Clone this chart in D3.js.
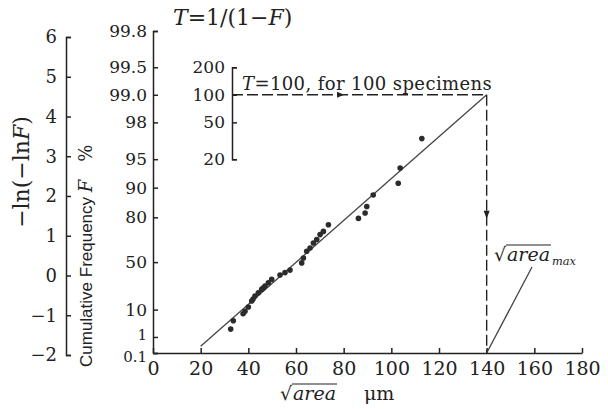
<!DOCTYPE html>
<html>
<head>
<meta charset="utf-8">
<script src="https://cdn.jsdelivr.net/npm/d3@7"></script>
<style>
  body { margin: 0; background: #fff; }
  svg { display: block; }
  text { font-family: "DejaVu Serif", "Liberation Serif", serif; fill: #222; }
  .axis path, .axis line { stroke: #222; stroke-width: 1.5px; }
  .axis text { font-family: "DejaVu Serif", serif; fill: #222; }
</style>
</head>
<body>
<svg class="chart" width="608" height="409"></svg>
<script>

// sqrt(area) of each specimen, micrometres
const sqrtArea = [32.6, 33.7, 37.8, 38.6, 40.0, 41.4, 42.0, 42.8, 44.2, 45.6, 46.2, 47.0, 48.4, 49.8,
                  53.3, 55.4, 57.5, 62.4, 63.1, 64.5, 65.9, 67.3, 68.7, 70.1, 71.5, 73.6,
                  86.2, 89.0, 89.7, 92.4, 102.9, 103.7, 112.8];
// cumulative frequency F, percent
const cumFreq = [2.3, 4.7, 7.7, 9.0, 11.6, 15.7, 17.2, 19.5, 22.2, 25.2, 26.3, 28.1, 31.1, 34.2,
                 38.2, 40.5, 42.8, 49.3, 53.6, 59.1, 61.6, 65.2, 67.6, 70.8, 72.7, 76.4,
                 79.5, 81.9, 84.4, 88.1, 91.0, 93.8, 97.0];

// fitted line end points
const fitX = [20, 140];
const fitF = [0.3, 99.0];

// tick values
const xTicks = [0, 20, 40, 60, 80, 100, 120, 140, 160, 180];
const fTicks = [0.1, 1, 10, 50, 80, 90, 95, 98, 99.0, 99.5, 99.8];
const fTickLabels = ['0.1', '1', '10', '50', '80', '90', '95', '98', '99.0', '99.5', '99.8'];
const gTicks = [-2, -1, 0, 1, 2, 3, 4, 5, 6];
const tTicks = [20, 50, 100, 200];

// return period and predicted maximum
const tRef = 100;
const areaMax = 140;

// reduced variate of the Gumbel plot
const gumbel = p => -Math.log(-Math.log(p / 100));
const fromT = t => 100 * (1 - 1 / t);

const svg = d3.select('svg.chart');

const x = d3.scaleLinear().domain([0, 180]).range([153, 582]);
const yF = d3.scaleLinear().domain([gumbel(0.1), gumbel(99.8)]).range([353, 31]);
const yG = d3.scaleLinear().domain([-2, 6]).range([355, 37]);
const yT = d3.scaleLinear()
  .domain([gumbel(fromT(20)), gumbel(fromT(200))])
  .range([yF(gumbel(fromT(20))), yF(gumbel(fromT(200)))]);

// -ln(-lnF) axis
svg.append('g').attr('class', 'axis')
  .attr('transform', 'translate(66,0)')
  .call(d3.axisLeft(yG).tickValues(gTicks).tickSize(-5).tickSizeOuter(-5).tickPadding(9)
    .tickFormat(d => d < 0 ? '\u2212' + Math.abs(d) : d))
  .call(g => g.selectAll('text').style('font-size', '18px'));

// cumulative frequency axis
svg.append('g').attr('class', 'axis')
  .attr('transform', 'translate(153,0)')
  .call(d3.axisLeft(yF).tickValues(fTicks.map(gumbel)).tickSize(-5).tickSizeOuter(-5).tickPadding(6)
    .tickFormat((d, i) => fTickLabels[i]))
  .call(g => g.selectAll('text').style('font-size', '17px'))
  // bottom two labels sit very close, nudge them apart
  .call(g => g.selectAll('.tick text').filter((d, i) => i < 2)
    .style('font-size', '15px')
    .attr('dy', (d, i) => i === 0 ? '0.55em' : '0.2em'));

// return period axis
svg.append('g').attr('class', 'axis')
  .attr('transform', 'translate(232,0)')
  .call(d3.axisLeft(yT).tickValues(tTicks.map(t => gumbel(fromT(t)))).tickSize(-5).tickSizeOuter(-5).tickPadding(7)
    .tickFormat((d, i) => tTicks[i]))
  .call(g => g.selectAll('text').style('font-size', '17px'));

// x axis
svg.append('g').attr('class', 'axis')
  .attr('transform', 'translate(0,353)')
  .call(d3.axisBottom(x).tickValues(xTicks).tickSize(-5).tickSizeOuter(0).tickPadding(9))
  .call(g => g.selectAll('text').style('font-size', '19px'));

// dashed construction lines
const yRef = yF(gumbel(fromT(tRef)));
const dashGrp = svg.append('g')
  .style('stroke', '#222').style('stroke-width', 1.4).style('stroke-dasharray', '11,4').style('fill', 'none');
dashGrp.append('line')
  .attr('x1', 232).attr('y1', yRef).attr('x2', x(areaMax)).attr('y2', yRef);
dashGrp.append('line')
  .attr('x1', x(areaMax)).attr('y1', yRef).attr('x2', x(areaMax)).attr('y2', 353);

// arrow heads
const arrowH = d3.interpolate(232, x(areaMax))(0.44);
const arrowV = d3.interpolate(yRef, 353)(0.48);
svg.append('path')
  .attr('d', `M${arrowH - 7},${yRef - 3}L${arrowH},${yRef}L${arrowH - 7},${yRef + 3}Z`)
  .style('fill', '#222');
svg.append('path')
  .attr('d', `M${x(areaMax) - 3},${arrowV - 8}L${x(areaMax)},${arrowV}L${x(areaMax) + 3},${arrowV - 8}Z`)
  .style('fill', '#222');

// fitted line
svg.append('line')
  .attr('x1', x(fitX[0])).attr('y1', yF(gumbel(fitF[0])))
  .attr('x2', x(fitX[1])).attr('y2', yF(gumbel(fitF[1])))
  .style('stroke', '#444').style('stroke-width', 1.3);

// specimens
svg.append('g').selectAll('circle')
  .data(sqrtArea)
  .enter()
  .append('circle')
  .attr('cx', d => x(d))
  .attr('cy', (d, i) => yF(gumbel(cumFreq[i])))
  .attr('r', 2.8)
  .style('fill', '#2b2b2b');

// title
const title = svg.append('text').attr('x', 173).attr('y', 25).style('font-size', '22px');
title.append('tspan').text('T').style('font-style', 'italic');
title.append('tspan').text('=1/(1\u2212');
title.append('tspan').text('F').style('font-style', 'italic');
title.append('tspan').text(')');

// T = 100 annotation
const note = svg.append('text').attr('x', 242).attr('y', 90)
  .style('font-size', '18px').style('letter-spacing', '0.4px');
note.append('tspan').text('T').style('font-style', 'italic');
note.append('tspan').text('=100, for 100 specimens');

// left axis label
const gLab = svg.append('text')
  .attr('transform', 'translate(29,172) rotate(-90)')
  .attr('text-anchor', 'middle')
  .style('font-size', '22px');
gLab.append('tspan').text('\u2212ln(\u2212ln');
gLab.append('tspan').text('F').style('font-style', 'italic');
gLab.append('tspan').text(')');

// cumulative frequency label
const fLab = svg.append('text')
  .attr('transform', 'translate(92,367) rotate(-90)')
  .style('font-size', '17px');
fLab.append('tspan').text('Cumulative Frequency ')
  .style('font-family', '"Liberation Sans", Arial, sans-serif');
fLab.append('tspan').text('F').style('font-style', 'italic').style('font-size', '18px');
fLab.append('tspan').attr('dx', 18).text('%').style('font-size', '18px');

// sqrt(area) label helper
function sqrtLabel(px, py, size, sub){
  const grp = svg.append('g');
  const rad = grp.append('text').attr('x', px).attr('y', py).style('font-size', size + 'px').text('\u221A');
  const rBox = rad.node().getBBox();
  const word = grp.append('text')
    .attr('x', rBox.x + rBox.width).attr('y', py)
    .style('font-size', size + 'px').style('font-style', 'italic').text('area');
  const wBox = word.node().getBBox();
  grp.append('line')
    .attr('x1', rBox.x + rBox.width - 1).attr('x2', wBox.x + wBox.width + 1)
    .attr('y1', rBox.y + 2).attr('y2', rBox.y + 2)
    .style('stroke', '#222').style('stroke-width', 1.2);
  if (sub) {
    grp.append('text')
      .attr('x', wBox.x + wBox.width + 2).attr('y', py + 4)
      .style('font-size', (size * 0.6) + 'px').style('font-style', 'italic').text(sub);
  }
  return wBox;
}

sqrtLabel(280, 400, 19);
svg.append('text').attr('x', 364).attr('y', 400).style('font-size', '19px').text('\u03BCm');

// predicted maximum label and leader
sqrtLabel(494, 261, 19, 'max');
svg.append('line')
  .attr('x1', x(areaMax)).attr('y1', 353)
  .attr('x2', 532).attr('y2', 267)
  .style('stroke', '#444').style('stroke-width', 1.3);

</script>
</body>
</html>
